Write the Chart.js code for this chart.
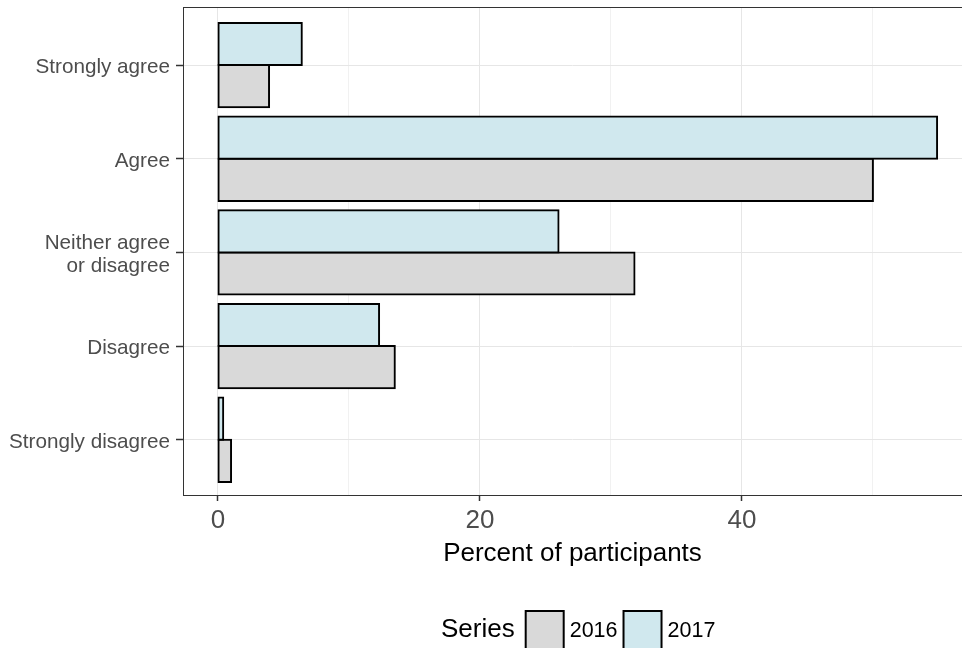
<!DOCTYPE html>
<html>
<head>
<meta charset="utf-8">
<script src="https://cdn.jsdelivr.net/npm/chart.js@4/dist/chart.umd.min.js"></script>
<style>
  html, body { margin: 0; padding: 0; background: #ffffff; }
  #wrap { width: 962px; height: 648px; }
</style>
</head>
<body>
<div id="wrap"><canvas id="chart" width="962" height="648"></canvas></div>
<script>
// categories top to bottom
const categories = ['Strongly agree', 'Agree', ['Neither agree', 'or disagree'], 'Disagree', 'Strongly disagree'];
const values2016 = [3.9, 50.0, 31.8, 13.5, 1.0];
const values2017 = [6.4, 54.9, 26.0, 12.3, 0.4];
const xTickValues = [0, 10, 20, 30, 40, 50];
const xLabelledTicks = [0, 20, 40];
const legendTitle = 'Series';

const FONT = "'Liberation Sans', Arial, sans-serif";
const fill2016 = '#d9d9d9';
const fill2017 = '#d0e8ee';

// panel border + ggplot style legend ("Series [] 2016 [] 2017")
const panelPlugin = {
    id: 'panel',
    afterDraw(chart) {
        const ctx = chart.ctx;
        const a = chart.chartArea;
        ctx.save();
        ctx.strokeStyle = '#333333';
        ctx.lineWidth = 1;
        ctx.strokeRect(Math.round(a.left) + 0.5, Math.round(a.top) + 0.5, a.right - a.left + 4, Math.round(a.bottom - a.top));
        ctx.restore();

        // legend, items in 2016, 2017 order
        const items = chart.data.datasets.slice().reverse();
        ctx.save();
        let x = 441;
        const midY = 630;
        ctx.textBaseline = 'middle';
        ctx.fillStyle = '#000000';
        ctx.font = '26px ' + FONT;
        ctx.fillText(legendTitle, x, midY);
        x += ctx.measureText(legendTitle).width + 11;
        ctx.font = '21.5px ' + FONT;
        items.forEach(ds => {
            ctx.fillStyle = ds.backgroundColor;
            ctx.fillRect(x, 611, 38, 40);
            ctx.strokeStyle = '#000000';
            ctx.lineWidth = 2;
            ctx.strokeRect(x, 611, 38, 40);
            x += 38 + 6;
            ctx.fillStyle = '#000000';
            ctx.fillText(ds.label, x, midY + 1);
            x += ctx.measureText(ds.label).width + 6;
        });
        ctx.restore();
    }
};

const ctx = document.getElementById('chart').getContext('2d');
new Chart(ctx, {
    type: 'bar',
    data: {
        datasets: [{
            label: '2017',
            data: values2017.map((v, i) => ({ x: v, y: i })),
            backgroundColor: fill2017,
            borderColor: '#000000',
            borderWidth: 2,
            borderSkipped: false,
            inflateAmount: 1
        }, {
            label: '2016',
            data: values2016.map((v, i) => ({ x: v, y: i })),
            backgroundColor: fill2016,
            borderColor: '#000000',
            borderWidth: 2,
            borderSkipped: false,
            inflateAmount: 1
        }]
    },
    options: {
        indexAxis: 'y',
        responsive: false,
        animation: false,
        devicePixelRatio: 1,
        categoryPercentage: 0.9,
        barPercentage: 1.0,
        layout: { padding: { left: 0, top: 7, right: 0, bottom: 68 } },
        plugins: {
            legend: { display: false },
            tooltip: { enabled: false }
        },
        scales: {
            x: {
                type: 'linear',
                min: -2.67,
                max: 56.8,
                afterBuildTicks: scale => { scale.ticks = xTickValues.map(v => ({ value: v })); },
                afterFit: scale => { scale.height = 85; scale.paddingLeft = 0; scale.paddingRight = 0; },
                border: { display: false },
                grid: {
                    color: c => xLabelledTicks.includes(c.tick.value) ? '#e6e6e6' : '#f1f1f1',
                    lineWidth: 1,
                    tickColor: c => xLabelledTicks.includes(c.tick.value) ? '#333333' : 'rgba(0,0,0,0)',
                    tickLength: 6,
                    tickWidth: 1.5
                },
                ticks: {
                    autoSkip: false,
                    maxRotation: 0,
                    padding: 4,
                    color: '#4d4d4d',
                    font: { family: FONT, size: 26 },
                    callback: v => xLabelledTicks.includes(v) ? String(v) : ''
                },
                title: {
                    display: true,
                    text: 'Percent of participants',
                    color: '#000000',
                    font: { family: FONT, size: 26 },
                    padding: { top: 0, bottom: 11 }
                }
            },
            y: {
                type: 'linear',
                reverse: true,
                offset: false,
                min: -0.62,
                max: 4.59,
                afterBuildTicks: scale => { scale.ticks = categories.map((c, i) => ({ value: i })); },
                afterFit: scale => { scale.width = 183; scale.paddingTop = 0; scale.paddingBottom = 0; },
                border: { display: false },
                grid: {
                    offset: false,
                    color: '#e6e6e6',
                    lineWidth: 1,
                    tickColor: '#333333',
                    tickLength: 7,
                    tickWidth: 1.5
                },
                ticks: {
                    autoSkip: false,
                    padding: 6,
                    labelOffset: 2.5,
                    color: '#4d4d4d',
                    font: { family: FONT, size: 20.7, lineHeight: 1.1 },
                    callback: v => categories[v]
                }
            }
        }
    },
    plugins: [panelPlugin]
});
</script>
</body>
</html>
